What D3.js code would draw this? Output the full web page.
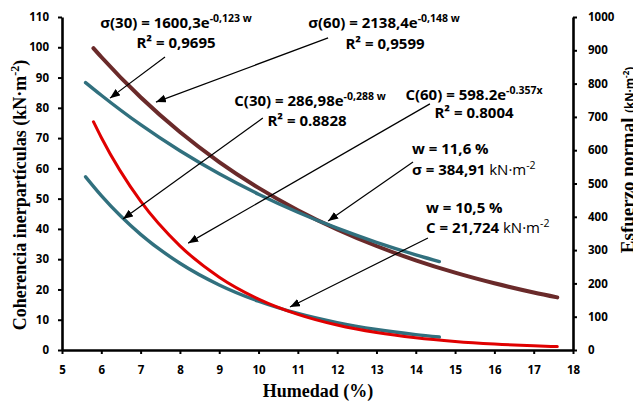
<!DOCTYPE html>
<html><head><meta charset="utf-8">
<script src="https://cdn.jsdelivr.net/npm/d3@7"></script>
<style>
body{margin:0;background:#fff;}
svg{display:block;}
</style></head><body>
<svg id="c" width="633" height="404"></svg>
<script>
// ---- data ----
const xTicks = [5,6,7,8,9,10,11,12,13,14,15,16,17,18];
const leftTicks = [0,10,20,30,40,50,60,70,80,90,100,110];
const rightTicks = [0,100,200,300,400,500,600,700,800,900,1000];

const w30 = [5.6,6,7,8,9,10,11,12,13,14,14.6];
const sigma30 = [803,765,676.5,598.2,529,467.8,413.7,365.8,323.5,286,265.6];
const c30 = [57.2,51.0,38.2,28.66,21.49,16.11,12.08,9.06,6.79,5.09,4.28];

const w60 = [5.8,6,7,8,9,10,11,12,13,14,15,16,17,17.6];
const sigma60 = [906.3,879.9,758.9,654.5,564.5,486.8,419.9,362.1,312.3,269.3,232.2,200.3,172.7,158.1];
const c60 = [75.4,70.2,49.15,34.4,24.07,16.84,11.79,8.25,5.77,4.04,2.83,1.98,1.38,1.12];

// arrows: [startW, startLeftValue, tipW, tipLeftValue]
const arrowsData = [
  [7.62,96.8,6.22,83.2],
  [11.77,103.1,7.39,81.9],
  [10.11,76.6,6.55,43.3],
  [14.36,81.3,8.21,35.3],
  [13.93,62.1,11.77,42.6],
  [14.31,37.0,10.80,14.2]
];

// ---- drawing ----
const svg = d3.select("#c");
const x = d3.scaleLinear().domain([5,18]).range([62,573]);
const yL = d3.scaleLinear().domain([0,110]).range([350,17]);
const yR = d3.scaleLinear().domain([0,1000]).range([350,17]);

const tickFont = "'Open Sans', sans-serif";
function styleAxis(g){
  g.select(".domain").attr("stroke","#000").attr("stroke-width",2.6);
  g.selectAll(".tick line").attr("stroke","#000").attr("stroke-width",2);
  g.selectAll(".tick text").attr("font-family",tickFont).attr("font-weight","bold")
   .attr("font-size","11.5px").attr("fill","#000");
}

// curves
const line = (xs, ys, yScale) => d3.line().curve(d3.curveMonotoneX)
  .x((d,i)=>x(xs[i])).y((d,i)=>yScale(ys[i]))(ys);

const teal = "#31707E", brown = "#6A2A2A", red = "#E00000";
svg.append("path").attr("d", line(w60, sigma60, yR)).attr("fill","none").attr("stroke",brown).attr("stroke-width",4).attr("stroke-linecap","round");
svg.append("path").attr("d", line(w30, sigma30, yR)).attr("fill","none").attr("stroke",teal).attr("stroke-width",3.4).attr("stroke-linecap","round");
svg.append("path").attr("d", line(w30, c30, yL)).attr("fill","none").attr("stroke",teal).attr("stroke-width",3.4).attr("stroke-linecap","round");
svg.append("path").attr("d", line(w60, c60, yL)).attr("fill","none").attr("stroke",red).attr("stroke-width",3).attr("stroke-linecap","round");

// axes
svg.append("g").attr("transform","translate(0,350)")
  .call(d3.axisBottom(x).tickValues(xTicks).tickSize(4).tickSizeOuter(0).tickPadding(12).tickFormat(d3.format("d")))
  .call(styleAxis);
svg.append("g").attr("transform","translate(62,0)")
  .call(d3.axisLeft(yL).tickValues(leftTicks).tickSize(4).tickSizeOuter(0).tickPadding(9).tickFormat(d3.format("d")))
  .call(styleAxis);
svg.append("g").attr("transform","translate(573,0)")
  .call(d3.axisRight(yR).tickValues(rightTicks).tickSize(4).tickSizeOuter(0).tickPadding(11).tickFormat(d3.format("d")))
  .call(styleAxis);

// arrows
const defs = svg.append("defs");
defs.append("marker").attr("id","ah").attr("markerUnits","userSpaceOnUse")
  .attr("markerWidth",12).attr("markerHeight",10).attr("refX",10).attr("refY",4)
  .attr("orient","auto")
  .append("path").attr("d","M0,0 L10,4 L0,8 Z").attr("fill","#000");
svg.selectAll("line.arr").data(arrowsData).enter().append("line").attr("class","arr")
  .attr("x1",d=>x(d[0])).attr("y1",d=>yL(d[1]))
  .attr("x2",d=>x(d[2])).attr("y2",d=>yL(d[3]))
  .attr("stroke","#000").attr("stroke-width",1.2).attr("marker-end","url(#ah)");

// annotations
const aFont = "'Open Sans', sans-serif";
const aSize = "15px", sSize = "10.5px";
function eq(cx, cy, main, sup){
  const t = svg.append("text").attr("x",cx).attr("y",cy).attr("text-anchor","middle")
    .attr("font-family",aFont).attr("font-weight","bold").attr("font-size",aSize).attr("fill","#000");
  t.append("tspan").text(main);
  t.append("tspan").attr("dy",-6).attr("font-size",sSize).text(sup);
}
function plain(cx, cy, s, anchor){
  svg.append("text").attr("x",cx).attr("y",cy).attr("text-anchor",anchor||"middle")
    .attr("font-family",aFont).attr("font-weight","bold").attr("font-size",aSize).attr("fill","#000").text(s);
}
eq(176,28,"σ(30) = 1600,3e","-0,123 w");
plain(176,48,"R² = 0,9695");
eq(384,28,"σ(60) = 2138,4e","-0,148 w");
plain(385,49,"R² = 0,9599");
eq(310,106,"C(30) = 286,98e","-0,288 w");
plain(307,126,"R² = 0.8828");
eq(474,100,"C(60) = 598.2e","-0.357x");
plain(474,118,"R² = 0.8004");

plain(412,154,"w = 11,6 %","start");
{
  const t = svg.append("text").attr("x",412).attr("y",175)
    .attr("font-family",aFont).attr("font-size",aSize).attr("fill","#000");
  t.append("tspan").attr("font-weight","bold").text("σ = 384,91");
  t.append("tspan").text(" kN·m");
  t.append("tspan").attr("dy",-6).attr("font-size",sSize).text("-2");
}
plain(426,213,"w = 10,5 %","start");
{
  const t = svg.append("text").attr("x",426).attr("y",233)
    .attr("font-family",aFont).attr("font-size",aSize).attr("fill","#000");
  t.append("tspan").attr("font-weight","bold").text("C = 21,724");
  t.append("tspan").text(" kN·m");
  t.append("tspan").attr("dy",-6).attr("font-size",sSize).text("-2");
}

// axis titles
const serif = "'Liberation Serif', 'Times New Roman', serif";
svg.append("text").attr("x",318).attr("y",397).attr("text-anchor","middle")
  .attr("font-family",serif).attr("font-weight","bold").attr("font-size","18px").text("Humedad (%)");
{
  const t = svg.append("text").attr("transform","translate(26,195) rotate(-90)").attr("text-anchor","middle")
    .attr("font-family",serif).attr("font-weight","bold").attr("font-size","18px");
  t.append("tspan").text("Coherencia inerpartículas  (kN·m");
  t.append("tspan").attr("dy",-7).attr("font-size","12px").text("-2");
  t.append("tspan").attr("dy",7).text(")");
}
{
  const t = svg.append("text").attr("transform","translate(634,160) rotate(-90)").attr("text-anchor","middle")
    .attr("font-family",serif).attr("font-weight","bold").attr("font-size","19px");
  t.append("tspan").text("Esfuerzo normal ");
  t.append("tspan").attr("font-family","'Open Sans', sans-serif").attr("font-size","11.5px").text("(kN·m");
  t.append("tspan").attr("font-family","'Open Sans', sans-serif").attr("dy",-5).attr("font-size","8px").text("-2");
  t.append("tspan").attr("font-family","'Open Sans', sans-serif").attr("dy",5).attr("font-size","11.5px").text(")");
}
</script>
</body></html>
